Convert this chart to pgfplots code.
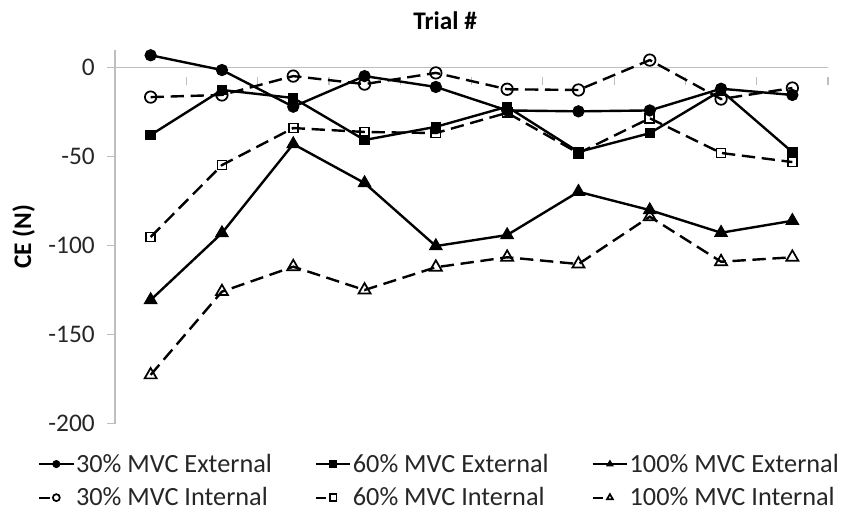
\documentclass[border=0pt]{standalone}
\usepackage{fontspec}
\setmainfont{Carlito}
\usepackage{pgfplots}
\usepackage{pgfplotstable}
\pgfplotsset{compat=1.18}
\definecolor{axisgray}{RGB}{190,190,190}

% Mean constant error (N) per trial
\pgfplotstableread{
trial ext30 ext60 ext100 int30 int60 int100
1    7.0   -37.8 -130.5 -16.5 -95.1 -172.6
2   -1.3   -12.5  -92.9 -15.3 -54.7 -125.8
3  -21.9   -17.0  -42.9  -4.7 -33.9 -111.8
4   -4.7   -40.6  -64.8  -9.2 -36.1 -124.9
5  -10.8   -33.2 -100.2  -2.9 -36.7 -112.1
6  -24.0   -21.9  -94.0 -12.1 -25.3 -106.5
7  -24.5   -47.3  -69.7 -12.5 -48.0 -110.3
8  -24.0   -36.8  -80.0   4.3 -28.4  -83.7
9  -11.8   -12.8  -92.7 -17.6 -47.9 -109.0
10 -15.3   -47.4  -86.0 -11.4 -53.0 -106.5
}\cedata

\pgfplotsset{
  extleg/.style={legend image code/.code={
    \draw[mark repeat=2,mark phase=2,mark size=2.6pt,line width=1.6pt]
      plot coordinates {(0pt,0pt) (13pt,0pt) (26pt,0pt)};}},
  intleg/.style={legend image code/.code={
    \draw[mark repeat=2,mark phase=2,mark size=2.6pt,line width=1.6pt,dash pattern=on 8pt off 40pt]
      plot coordinates {(0pt,0pt) (13pt,0pt) (26pt,0pt)};}},
  extline/.style={black, line width=1.8pt, solid, extleg},
  intline/.style={black, line width=1.8pt, dash pattern=on 10pt off 5pt, intleg},
}

\newcommand{\legtext}[1]{\makebox[179pt][l]{#1}}

\begin{document}
\begin{tikzpicture}
\path[use as bounding box] (0,0) rectangle (636pt,389.25pt);
\begin{axis}[
  at={(86.25pt,71.5pt)}, anchor=south west,
  scale only axis, width=534.75pt, height=280.3pt,
  xmin=0.5, xmax=10.5, ymin=-200, ymax=10,
  axis x line*=middle, axis y line*=left,
  xtick={1.5,2.5,...,10.5}, xticklabels={},
  ytick={-200,-150,-100,-50,0},
  yticklabels={-200,-150,-100,-50,0},
  tick align=outside, major tick length=6pt,
  axis line style={draw=axisgray, line width=0.9pt},
  tick style={draw=axisgray, line width=0.9pt},
  x tick style={yshift=-7pt},
  yticklabel style={font=\fontsize{19}{23}\selectfont, color=black!85, anchor=east, inner sep=0pt, xshift=-9pt},
  title={Trial \#},
  title style={font=\fontsize{19}{23}\selectfont\bfseries, at={(axis description cs:0.463,1.057)}, anchor=center},
  ylabel={CE (N)},
  ylabel style={font=\fontsize{19}{23}\selectfont\bfseries, at={(axis description cs:-0.128,0.5)}, anchor=center},
  legend columns=3,
  legend style={draw=none, fill=none, inner sep=0pt, row sep=10pt,
    font=\fontsize{19.7}{23}\selectfont, text=black!85,
    nodes={inner sep=0pt, anchor=west},
    /tikz/every odd column/.append style={column sep=1pt},
    at={(axis description cs:0,0)}, anchor=north west, xshift=-58pt, yshift=-22.5pt},
]
\addplot[extline, mark=*, mark size=4.2pt, mark options={solid, fill=black, line width=0.8pt}]
  table[x=trial, y=ext30] {\cedata};
\addlegendentry{\legtext{30\% MVC External}}
\addplot[extline, mark=square*, mark size=3.5pt, mark options={solid, fill=black, line width=0.8pt}]
  table[x=trial, y=ext60] {\cedata};
\addlegendentry{\legtext{60\% MVC External}}
\addplot[extline, mark=triangle*, mark size=5.4pt, mark options={solid, fill=black, line width=0.8pt}]
  table[x=trial, y=ext100] {\cedata};
\addlegendentry{\legtext{100\% MVC External}}
\addplot[intline, mark=o, mark size=4.3pt, mark options={solid, fill=white, line width=1.3pt}]
  table[x=trial, y=int30] {\cedata};
\addlegendentry{\legtext{30\% MVC Internal}}
\addplot[intline, mark=square, mark size=3.4pt, mark options={solid, fill=white, line width=1.3pt}]
  table[x=trial, y=int60] {\cedata};
\addlegendentry{\legtext{60\% MVC Internal}}
\addplot[intline, mark=triangle, mark size=5.2pt, mark options={solid, fill=white, line width=1.3pt}]
  table[x=trial, y=int100] {\cedata};
\addlegendentry{\legtext{100\% MVC Internal}}
\end{axis}
\end{tikzpicture}
\end{document}
